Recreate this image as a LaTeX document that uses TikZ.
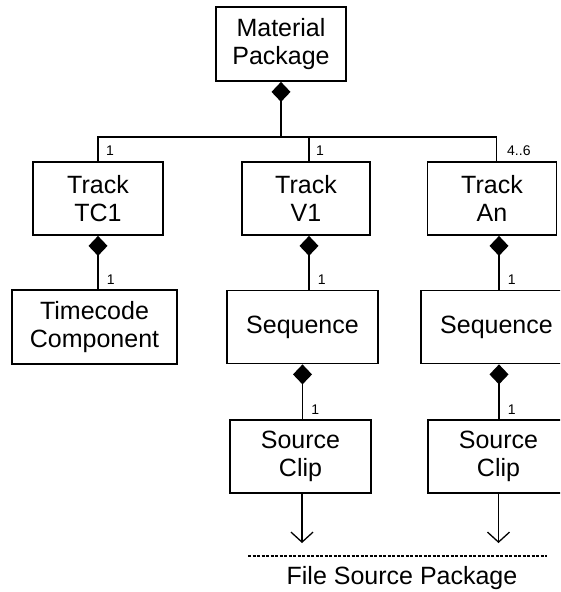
\documentclass[tikz,border=0pt]{standalone}
\usepackage{fontspec}
\setmainfont{Liberation Sans}
\usetikzlibrary{arrows.meta}

\begin{document}
\begin{tikzpicture}[x=1pt,y=-1pt,
  box/.style={draw, line width=1.8pt, inner sep=0pt, align=center,
    font=\fontsize{25}{28}\selectfont},
  comp/.style={line width=1.7pt, {Diamond[length=20pt,width=19pt,line width=0pt]}-},
  link/.style={line width=1.7pt},
  ref/.style={line width=1.3pt, -{Straight Barb[length=10pt,width=22pt,line width=1.3pt]}},
  mult/.style={font=\fontsize{14}{16}\selectfont, inner sep=0pt}]
  \useasboundingbox (0,0) rectangle (560,592);
  \clip (0,0) rectangle (560,592);

  % boxes
  \node[box, minimum width=130pt, minimum height=74pt] (mp)   at (281,44)    {Material\\Package};
  \node[box, minimum width=130pt, minimum height=73pt] (tc1)  at (98,198.5)  {Track\\TC1};
  \node[box, minimum width=128pt, minimum height=73pt] (v1)   at (306,198.5) {Track\\V1};
  \node[box, minimum width=129pt, minimum height=73pt] (an)   at (492,198.5) {Track\\An};
  \node[box, minimum width=165pt, minimum height=74pt] (tcc)  at (94.5,327)  {Timecode\\Component};
  \node[box, minimum width=151pt, minimum height=73pt] (seqv) at (302.5,327) {Sequence};
  \node[box, minimum width=151pt, minimum height=73pt] (seqa) at (496.5,327) {Sequence};
  \node[box, minimum width=141pt, minimum height=73pt] (scv)  at (300.5,456.5) {Source\\Clip};
  \node[box, minimum width=141pt, minimum height=73pt] (sca)  at (498.5,456.5) {Source\\Clip};

  % bus between the package and its tracks
  \coordinate (bus) at (0,137);
  \draw[comp] (mp.south) -- (mp.south |- bus);
  \draw[link] ([xshift=4.5pt]an.north) |- (bus -| tc1.north) -- (tc1.north);
  \draw[link] ([xshift=3pt]v1.north) -- ([xshift=3pt]v1.north |- bus);

  % multiplicities (canvas shifts: positive yshift is upwards)
  \node[mult, anchor=south west] (m1) at ([xshift=8pt,yshift=5pt]tc1.north) {1};
  \node[mult, anchor=south west] (m2) at ([xshift=10pt,yshift=5pt]v1.north) {1};
  \node[mult, anchor=south west] (m3) at ([xshift=15pt,yshift=5pt]an.north) {4..6};

  % composition links down each column
  \draw[comp] (tc1.south) -- (tc1.south |- tcc.north)
    node[mult, anchor=south west, xshift=8pt, yshift=4pt] (m4) {1};
  \draw[comp] ([xshift=3pt]v1.south) -- ([xshift=3pt]v1.south |- seqv.north)
    node[mult, anchor=south west, xshift=8pt, yshift=4pt] (m5) {1};
  \draw[comp] ([xshift=7pt]an.south) -- ([xshift=7pt]an.south |- seqa.north)
    node[mult, anchor=south west, xshift=8pt, yshift=4pt] (m6) {1};
  \draw[comp] (seqv.south) -- (seqv.south |- scv.north)
    node[mult, anchor=south west, xshift=8pt, yshift=4pt] (m7) {1};
  \draw[comp] ([xshift=2.5pt]seqa.south) -- ([xshift=2.5pt]seqa.south |- sca.north)
    node[mult, anchor=south west, xshift=8pt, yshift=4pt] (m8) {1};

  % references to the file source package
  \coordinate (fspl) at (248,556);
  \coordinate (fspr) at (547,556);
  \draw[ref] ([xshift=1.5pt]scv.south) -- ([xshift=1.5pt,yshift=13pt]scv.south |- fspl);
  \draw[ref] (sca.south) -- ([yshift=13pt]sca.south |- fspl);
  \draw[line width=1.9pt, dash pattern=on 3pt off 1.5pt] (fspl) -- (fspr);
  \node[font=\fontsize{25}{28}\selectfont, inner sep=0pt] (fsp) at (402,578) {File Source Package};
\end{tikzpicture}
\end{document}
